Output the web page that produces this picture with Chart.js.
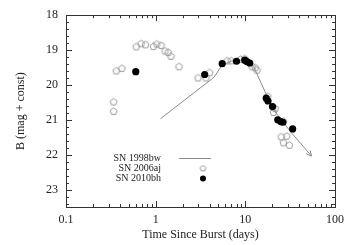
<!DOCTYPE html>
<html>
<head>
<meta charset="utf-8">
<script src="https://cdn.jsdelivr.net/npm/chart.js@4"></script>
<style>
  body { margin: 0; background: #fff; }
</style>
</head>
<body>
<canvas id="lcChart" width="350" height="245"></canvas>
<script>
// Light curves of SN 1998bw, SN 2006aj and SN 2010bh

// axis ticks
const xTickVals = [0.1, 1, 10, 100];
const xTickLabels = ['0.1', '1', '10', '100'];
const yTickVals = [18, 19, 20, 21, 22, 23];

// SN 1998bw template curve (days, mag)
const days1998bw = [1.13, 4.47, 5.52, 7.43, 9.6, 12.4, 13.4, 16.9, 20.6, 32.9, 54.8];
const mag1998bw = [20.97, 19.78, 19.43, 19.29, 19.29, 19.48, 19.67, 20.24, 20.71, 21.38, 22.04];

// SN 2006aj points
const days2006aj = [0.34, 0.34, 0.364, 0.42, 0.607, 0.689, 0.769, 0.944, 1.03, 1.15, 1.27, 1.38, 1.48,
  1.82, 2.97, 3.64, 4.0, 6.27, 6.95, 8.82, 9.85, 11.9, 12.9, 13.5, 17.8, 20.3, 21.5, 20.6, 26.6,
  25.1, 29.0, 26.6, 31.0];
const mag2006aj = [20.49, 20.76, 19.60, 19.53, 18.91, 18.82, 18.85, 18.90, 18.83, 18.87, 19.03, 19.07, 19.18,
  19.48, 19.80, 19.80, 19.65, 19.31, 19.31, 19.27, 19.25, 19.48, 19.51, 19.58, 20.33, 20.64, 20.68, 20.79, 21.05,
  21.49, 21.47, 21.66, 21.73];

// SN 2010bh points
const days2010bh = [0.60, 3.52, 5.52, 7.97, 9.85, 10.4, 11.2, 17.1, 17.9, 20.1, 23.0, 24.8, 26.2, 33.7];
const mag2010bh = [19.62, 19.70, 19.39, 19.32, 19.29, 19.33, 19.37, 20.38, 20.46, 20.62, 21.0, 21.05, 21.07, 21.26];

const seriesNames = ['SN 1998bw', 'SN 2006aj', 'SN 2010bh'];

const toXY = (xs, ys) => xs.map((d, i) => ({ x: d, y: ys[i] }));

const serif = 'Liberation Serif';
const gray = '#999';
const lineGray = '#8a8a8a';
const ink = '#222';

// open pentagon marker
function makePentagon(r, color) {
  const c = document.createElement('canvas');
  const s = Math.ceil(r * 2 + 3);
  c.width = s; c.height = s;
  const g = c.getContext('2d');
  g.strokeStyle = color;
  g.lineWidth = 1;
  g.beginPath();
  for (let k = 0; k < 5; k++) {
    const a = -Math.PI / 2 + k * 2 * Math.PI / 5;
    const px = s / 2 + r * Math.cos(a), py = s / 2 + r * Math.sin(a);
    if (k === 0) g.moveTo(px, py); else g.lineTo(px, py);
  }
  g.closePath();
  g.stroke();
  return c;
}
const pentagon = makePentagon(3.6, gray);
const pentagonSmall = makePentagon(3, gray);

// frame, inward ticks on all four sides, arrow head and the legend
const framePlugin = {
  id: 'frame',
  afterDraw(chart) {
    const { ctx, chartArea: a, scales: { x, y } } = chart;
    ctx.save();
    ctx.strokeStyle = '#333';
    ctx.lineWidth = 1;
    const seg = (x1, y1, x2, y2) => { ctx.beginPath(); ctx.moveTo(x1, y1); ctx.lineTo(x2, y2); ctx.stroke(); };

    // x ticks (log)
    const xTick = (v, len) => {
      const px = Math.round(x.getPixelForValue(v)) + 0.5;
      seg(px, a.bottom, px, a.bottom - len);
      seg(px, a.top, px, a.top + len);
    };
    xTickVals.forEach(v => xTick(v, 6));
    [0.1, 1, 10].forEach(d => { for (let m = 2; m <= 9; m++) xTick(d * m, 3); });

    // y ticks
    const yTick = (v, len) => {
      const py = Math.round(y.getPixelForValue(v)) + 0.5;
      seg(a.left, py, a.left + len, py);
      seg(a.right, py, a.right - len, py);
    };
    yTickVals.forEach(v => yTick(v, 6));
    for (let v = 18.2; v < 23.5; v += 0.2) {
      if (Math.abs(v - Math.round(v)) > 0.01) yTick(v, 3);
    }

    ctx.strokeRect(Math.round(a.left) + 0.5, Math.round(a.top) + 0.5,
      Math.round(a.right - a.left), Math.round(a.bottom - a.top));

    // arrow head at the end of the 1998bw curve
    const pts = chart.getDatasetMeta(2).data;
    const p1 = pts[pts.length - 2], p2 = pts[pts.length - 1];
    const ang = Math.atan2(p2.y - p1.y, p2.x - p1.x);
    ctx.strokeStyle = lineGray;
    [0.45, -0.45].forEach(da => {
      seg(p2.x, p2.y, p2.x - 6 * Math.cos(ang + da), p2.y - 6 * Math.sin(ang + da));
    });

    // legend
    ctx.font = '10px "' + serif + '"';
    ctx.fillStyle = ink;
    ctx.textAlign = 'right';
    ctx.textBaseline = 'middle';
    const rows = [158, 168.5, 178.5];
    seriesNames.forEach((n, i) => ctx.fillText(n, 161, rows[i]));
    ctx.strokeStyle = lineGray;
    seg(179, rows[0] + 0.5, 211, rows[0] + 0.5);
    ctx.drawImage(pentagonSmall, 203 - pentagonSmall.width / 2, rows[1] - pentagonSmall.height / 2);
    ctx.fillStyle = '#000';
    ctx.beginPath(); ctx.arc(203, rows[2], 3, 0, Math.PI * 2); ctx.fill();
    ctx.restore();
  }
};

const ctx = document.getElementById('lcChart').getContext('2d');
const lcChart = new Chart(ctx, {
  type: 'scatter',
  data: {
    datasets: [
      {
        label: seriesNames[2],
        data: toXY(days2010bh, mag2010bh),
        pointStyle: 'circle',
        pointRadius: 3.6,
        backgroundColor: '#000',
        borderColor: '#000',
        borderWidth: 0,
        order: 1
      },
      {
        label: seriesNames[1],
        data: toXY(days2006aj, mag2006aj),
        pointStyle: pentagon,
        pointRadius: 4,
        order: 2
      },
      {
        label: seriesNames[0],
        data: toXY(days1998bw, mag1998bw),
        showLine: true,
        borderColor: lineGray,
        borderWidth: 1,
        pointRadius: 0,
        tension: 0,
        order: 3
      }
    ]
  },
  options: {
    responsive: false,
    animation: false,
    layout: { padding: { top: 14, right: 13, left: 0, bottom: 0 } },
    plugins: { legend: { display: false }, tooltip: { enabled: false } },
    scales: {
      x: {
        type: 'logarithmic',
        min: 0.1,
        max: 100,
        grid: { display: false, drawTicks: false },
        border: { display: false },
        afterBuildTicks: s => { s.ticks = xTickVals.map(v => ({ value: v })); },
        afterFit: s => { s.height = 38; },
        ticks: {
          padding: 6,
          color: ink,
          font: { family: serif, size: 12 },
          maxRotation: 0,
          callback: v => xTickLabels[xTickVals.indexOf(v)]
        },
        title: {
          display: true,
          text: 'Time Since Burst (days)',
          color: ink,
          font: { family: serif, size: 12 },
          padding: { top: 0, bottom: 3 }
        }
      },
      y: {
        reverse: true,
        min: 18,
        max: 23.5,
        grid: { display: false, drawTicks: false },
        border: { display: false },
        afterBuildTicks: s => { s.ticks = yTickVals.map(v => ({ value: v })); },
        afterFit: s => { s.width = 66; },
        ticks: {
          padding: 8,
          color: ink,
          font: { family: serif, size: 12 }
        },
        title: {
          display: true,
          text: 'B (mag + const)',
          color: ink,
          font: { family: serif, size: 12 },
          padding: { top: 14, bottom: 0 }
        }
      }
    }
  },
  plugins: [framePlugin]
});
</script>
</body>
</html>
